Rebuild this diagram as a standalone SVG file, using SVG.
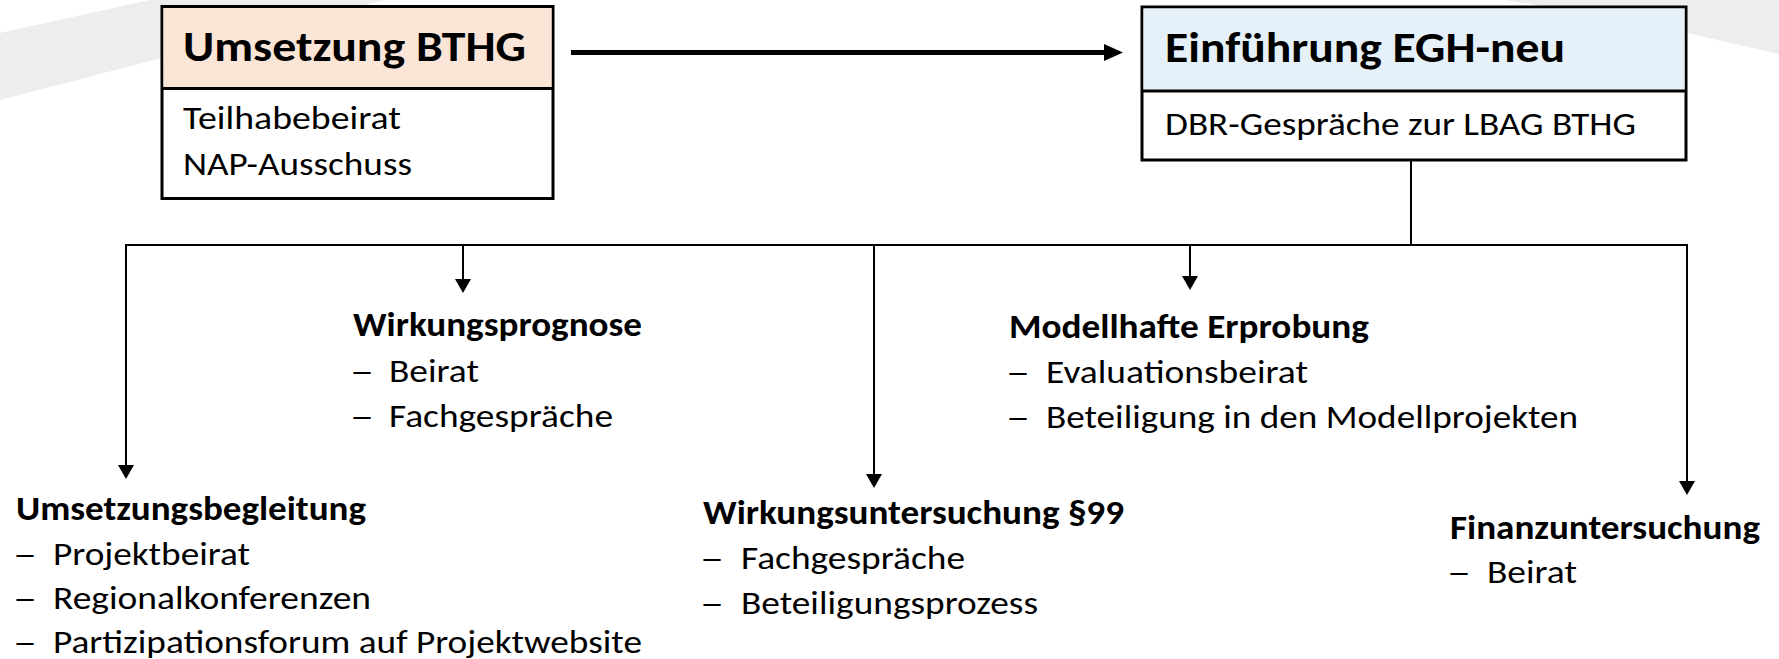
<svg xmlns="http://www.w3.org/2000/svg" width="1779" height="659" viewBox="0 0 1779 659">
  <style>
    text { font-family: Carlito, Lato, "Liberation Sans", sans-serif; fill: #000; }
    .hd { font-size: 43px; font-weight: bold; }
    .tt { font-size: 33.5px; font-weight: bold; }
    .bd { font-size: 33.5px; }
    .box { fill: #fff; stroke: #000; stroke-width: 3; }
    .div { stroke: #000; stroke-width: 3; }
    .ln { stroke: #000; stroke-width: 2; fill: none; }
    .thick { stroke: #000; stroke-width: 5; fill: none; }
    .bg { fill: #EDEDED; }
  </style>
  <rect width="1779" height="659" fill="#fff"/>
  <g id="background">
    <path class="bg" d="M0,33 L150,0 L385,0 L0,100 Z"/>
    <path class="bg" d="M1505,0 L1779,0 L1779,54 L1687,33 L1560,9 Z"/>
  </g>

  <g id="connectors">
    <line class="thick" x1="571" y1="52.5" x2="1106" y2="52.5"/>
    <path d="M1104,44 L1123,52.5 L1104,61 Z" fill="#000"/>
    <line class="ln" x1="1411" y1="160" x2="1411" y2="245"/>
    <polyline class="ln" points="126,465 126,245 1687,245 1687,481"/>
    <line class="ln" x1="463" y1="245" x2="463" y2="280"/>
    <line class="ln" x1="874" y1="245" x2="874" y2="475"/>
    <line class="ln" x1="1190" y1="245" x2="1190" y2="277"/>
    <path d="M118,465 L134,465 L126,479 Z" fill="#000"/>
    <path d="M455,279 L471,279 L463,293 Z" fill="#000"/>
    <path d="M866,474 L882,474 L874,488 Z" fill="#000"/>
    <path d="M1182,276 L1198,276 L1190,290 Z" fill="#000"/>
    <path d="M1679,481 L1695,481 L1687,495 Z" fill="#000"/>
  </g>

  <g id="node-umsetzung-bthg">
    <rect class="box" x="162" y="6.5" width="391" height="192"/>
    <rect x="163.5" y="8" width="388" height="80" fill="#FBE5D6"/>
    <line class="div" x1="162" y1="88.5" x2="553" y2="88.5"/>
    <text class="hd" x="183" y="61" textLength="343" lengthAdjust="spacingAndGlyphs">Umsetzung BTHG</text>
    <text class="bd" x="183" y="129" textLength="218" lengthAdjust="spacingAndGlyphs">Teilhabebeirat</text>
    <text class="bd" x="183" y="175" textLength="229" lengthAdjust="spacingAndGlyphs">NAP-Ausschuss</text>
  </g>

  <g id="node-einfuehrung-egh">
    <rect class="box" x="1142" y="7" width="544" height="153"/>
    <rect x="1143.5" y="8.5" width="541" height="82" fill="#E5F0F8"/>
    <line class="div" x1="1142" y1="91" x2="1686" y2="91"/>
    <text class="hd" x="1165" y="62" textLength="400" lengthAdjust="spacingAndGlyphs">Einführung EGH-neu</text>
    <text class="bd" x="1165" y="135" textLength="471" lengthAdjust="spacingAndGlyphs">DBR-Gespräche zur LBAG BTHG</text>
  </g>

  <g id="node-wirkungsprognose">
    <text class="tt" x="353" y="336" textLength="289" lengthAdjust="spacingAndGlyphs">Wirkungsprognose</text>
    <text class="bd" x="350" y="382" textLength="24" lengthAdjust="spacingAndGlyphs">–</text>
    <text class="bd" x="389" y="382" textLength="90" lengthAdjust="spacingAndGlyphs">Beirat</text>
    <text class="bd" x="350" y="427" textLength="24" lengthAdjust="spacingAndGlyphs">–</text>
    <text class="bd" x="389" y="427" textLength="224" lengthAdjust="spacingAndGlyphs">Fachgespräche</text>
  </g>

  <g id="node-modellhafte-erprobung">
    <text class="tt" x="1009" y="338" textLength="360" lengthAdjust="spacingAndGlyphs">Modellhafte Erprobung</text>
    <text class="bd" x="1006" y="383" textLength="24" lengthAdjust="spacingAndGlyphs">–</text>
    <text class="bd" x="1046" y="383" textLength="262" lengthAdjust="spacingAndGlyphs">Evaluationsbeirat</text>
    <text class="bd" x="1006" y="428" textLength="24" lengthAdjust="spacingAndGlyphs">–</text>
    <text class="bd" x="1046" y="428" textLength="532" lengthAdjust="spacingAndGlyphs">Beteiligung in den Modellprojekten</text>
  </g>

  <g id="node-umsetzungsbegleitung">
    <text class="tt" x="16" y="520" textLength="350" lengthAdjust="spacingAndGlyphs">Umsetzungsbegleitung</text>
    <text class="bd" x="13" y="565" textLength="24" lengthAdjust="spacingAndGlyphs">–</text>
    <text class="bd" x="53" y="565" textLength="197" lengthAdjust="spacingAndGlyphs">Projektbeirat</text>
    <text class="bd" x="13" y="609" textLength="24" lengthAdjust="spacingAndGlyphs">–</text>
    <text class="bd" x="53" y="609" textLength="318" lengthAdjust="spacingAndGlyphs">Regionalkonferenzen</text>
    <text class="bd" x="13" y="653" textLength="24" lengthAdjust="spacingAndGlyphs">–</text>
    <text class="bd" x="53" y="653" textLength="589" lengthAdjust="spacingAndGlyphs">Partizipationsforum auf Projektwebsite</text>
  </g>

  <g id="node-wirkungsuntersuchung">
    <text class="tt" x="703" y="524" textLength="421" lengthAdjust="spacingAndGlyphs">Wirkungsuntersuchung §99</text>
    <text class="bd" x="700" y="569" textLength="24" lengthAdjust="spacingAndGlyphs">–</text>
    <text class="bd" x="741" y="569" textLength="224" lengthAdjust="spacingAndGlyphs">Fachgespräche</text>
    <text class="bd" x="700" y="614" textLength="24" lengthAdjust="spacingAndGlyphs">–</text>
    <text class="bd" x="741" y="614" textLength="297" lengthAdjust="spacingAndGlyphs">Beteiligungsprozess</text>
  </g>

  <g id="node-finanzuntersuchung">
    <text class="tt" x="1450" y="539" textLength="310" lengthAdjust="spacingAndGlyphs">Finanzuntersuchung</text>
    <text class="bd" x="1447" y="583" textLength="24" lengthAdjust="spacingAndGlyphs">–</text>
    <text class="bd" x="1487" y="583" textLength="90" lengthAdjust="spacingAndGlyphs">Beirat</text>
  </g>
</svg>
